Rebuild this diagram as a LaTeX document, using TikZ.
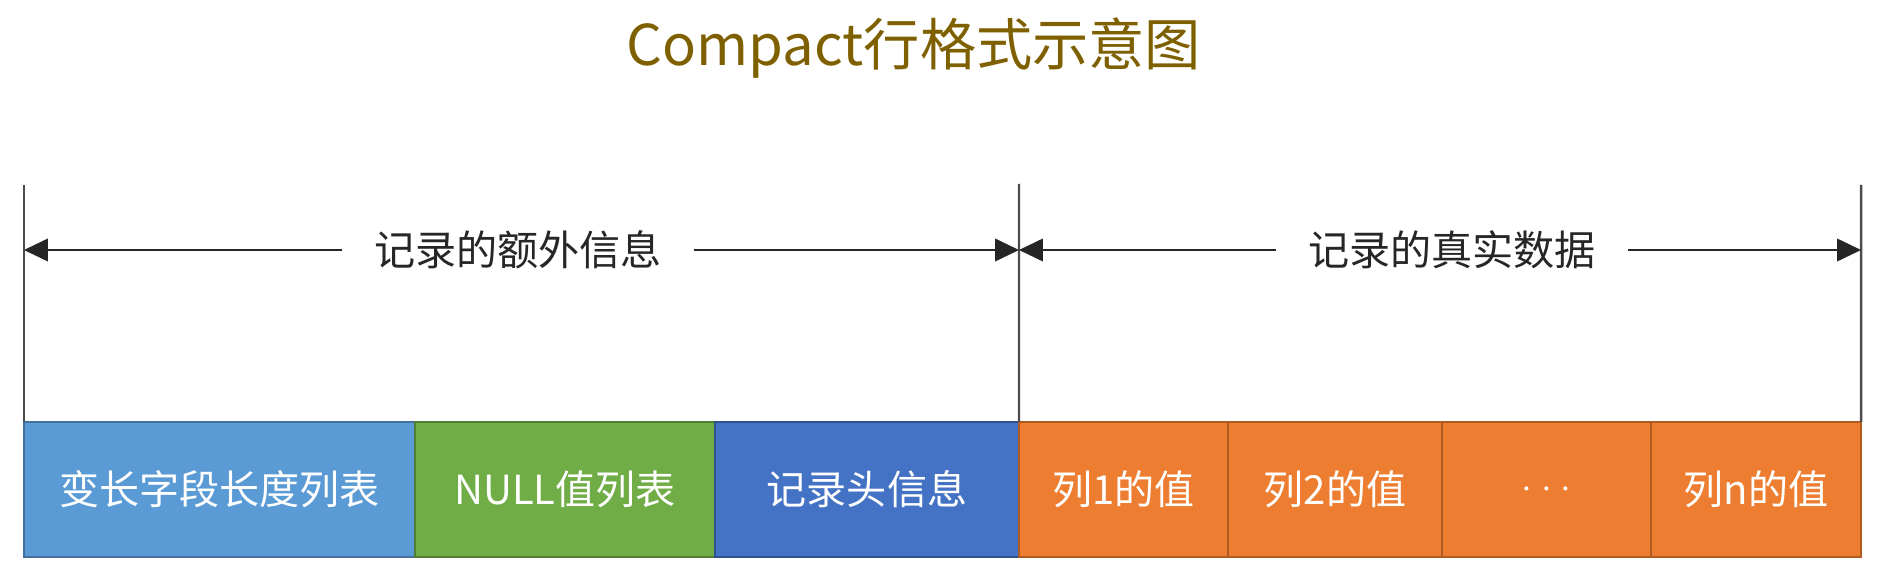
\documentclass[tikz,border=0pt]{standalone}
\usepackage{fontspec}
\setmainfont{Noto Sans CJK SC}
\usetikzlibrary{positioning,arrows.meta}

\definecolor{titlegold}{HTML}{7F6000}
\definecolor{vlenfill}{HTML}{5B9BD5}
\definecolor{vlenedge}{HTML}{41719C}
\definecolor{nullfill}{HTML}{70AD47}
\definecolor{nulledge}{HTML}{507E32}
\definecolor{headfill}{HTML}{4472C4}
\definecolor{headedge}{HTML}{2F528F}
\definecolor{colfill}{HTML}{ED7D31}
\definecolor{coledge}{HTML}{AE5A21}

\tikzset{
  cell/.style={draw, line width=0.7pt, minimum height=1.35cm, inner sep=0pt, outer sep=0pt,
    text=white, font=\fontsize{11.4}{13}\selectfont},
  colcell/.style={cell, fill=colfill, draw=coledge},
  dimline/.style={line width=0.6pt, black!85, -{Triangle[length=6.8pt,width=6.4pt]}},
  edgeline/.style={line width=0.7pt, black!70},
  spanlabel/.style={text=black!85, font=\fontsize{11.7}{14}\selectfont, inner xsep=0.31cm}
}

\begin{document}
\begin{tikzpicture}

\useasboundingbox (0,0) rectangle (18.79,5.80);

\node[text=titlegold, font=\fontsize{16}{19}\selectfont] (title) at (9.14,5.32) {Compact行格式示意图};

% the row
\node[cell, fill=vlenfill, draw=vlenedge, minimum width=3.91cm, anchor=south west] (vlen) at (0.24,0.23) {变长字段长度列表};
\node[cell, fill=nullfill, draw=nulledge, minimum width=3.00cm, right=0pt of vlen] (nulls) {NULL值列表};
\node[cell, fill=headfill, draw=headedge, minimum width=3.04cm, right=0pt of nulls] (header) {记录头信息};
\node[colcell, minimum width=2.09cm, right=0pt of header] (col1) {列1的值};
\node[colcell, minimum width=2.14cm, right=0pt of col1] (col2) {列2的值};
\node[colcell, minimum width=2.09cm, right=0pt of col2] (dots) {$\cdotp\mkern1mu\cdotp\mkern1mu\cdotp$};
\node[colcell, minimum width=2.10cm, right=0pt of dots] (coln) {列n的值};

% limits
\coordinate (ltop) at (0.24,3.95);
\coordinate (mtop) at (10.19,3.96);
\coordinate (rtop) at (18.61,3.95);
\draw[edgeline] (ltop) -- (vlen.north west);
\draw[edgeline] (mtop) -- (col1.north west);
\draw[edgeline] (rtop) -- (coln.north east);

% spans
\node[spanlabel] (extra) at (5.18,3.30) {记录的额外信息};
\node[spanlabel] (real) at (14.52,3.30) {记录的真实数据};
\draw[dimline] (extra.west) -- (extra.west -| ltop);
\draw[dimline] (extra.east) -- (extra.east -| mtop);
\draw[dimline] (real.west) -- (real.west -| mtop);
\draw[dimline] (real.east) -- (real.east -| rtop);

\end{tikzpicture}
\end{document}
